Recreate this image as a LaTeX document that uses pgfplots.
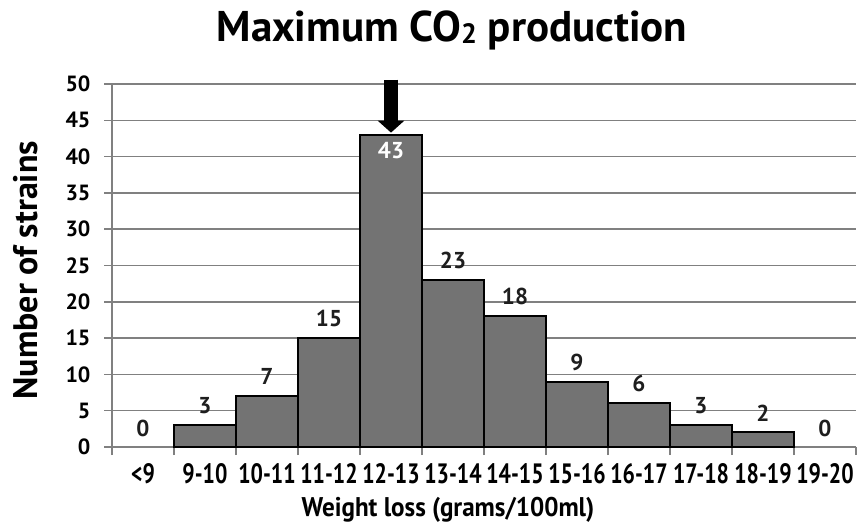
\documentclass[border=0pt]{standalone}
\usepackage{pgfplots}
\pgfplotsset{compat=1.18}
\usepackage{fontspec}
\setmainfont{PT Sans}
\newfontfamily\narrowfont[FakeStretch=0.78]{PT Sans}
\newfontfamily\xlabfont[FakeStretch=0.93]{PT Sans}
\usetikzlibrary{arrows.meta}
\definecolor{barfill}{RGB}{115,115,115}
\definecolor{gridc}{RGB}{128,128,128}
\definecolor{lab}{RGB}{30,30,30}
\begin{document}
\begin{tikzpicture}
\begin{axis}[
  scale only axis,
  width=744pt, height=363pt,
  xmin=-0.5, xmax=11.5,
  ymin=0, ymax=50,
  axis lines=left,
  axis line style={-, draw=gridc, line width=1.5pt},
  ytick={0,5,...,50},
  ymajorgrids,
  grid style={gridc, line width=1.5pt},
  tick align=outside,
  major tick length=8pt,
  minor tick length=8pt,
  tick style={gridc, line width=1.5pt},
  xtick={0,...,11},
  xticklabels={<9,9-10,10-11,11-12,12-13,13-14,14-15,15-16,16-17,17-18,18-19,19-20},
  major x tick style={draw=none},
  minor xtick={-0.5,0.5,...,11.5},
  x tick label style={yshift=-5pt, font=\narrowfont\fontsize{28}{30}\selectfont\bfseries, text=black},
  y tick label style={xshift=-10pt, font=\fontsize{22}{24}\selectfont\bfseries, text=black},
  /pgf/number format/assume math mode=true,
  every axis y label/.style={at={(axis description cs:0,0.487)}, xshift=-86pt, rotate=90, anchor=center},
  every axis x label/.style={at={(axis description cs:0.5,0)}, yshift=-63pt, xshift=-36pt, anchor=center},
  ylabel={\fontsize{34}{36}\selectfont\bfseries Number of strains},
  xlabel={\xlabfont\fontsize{27}{29}\selectfont\bfseries Weight loss (grams/100ml)},
  clip=false,
]
\addplot[ybar, bar width=1, bar shift=0pt, fill=barfill, draw=black, line width=2pt,
  nodes near coords, point meta=explicit symbolic,
  every node near coord/.append style={font=\fontsize{23}{25}\selectfont\bfseries, text=lab, anchor=south, yshift=7pt}]
  coordinates {(1,3) [3] (2,7) [7] (3,15) [15] (5,23) [23] (6,18) [18] (7,9) [9] (8,6) [6] (9,3) [3] (10,2) [2]};
\addplot[ybar, bar width=1, bar shift=0pt, draw=none, fill=none,
  nodes near coords, point meta=explicit symbolic,
  every node near coord/.append style={font=\fontsize{23}{25}\selectfont\bfseries, text=lab, anchor=south, yshift=7pt}]
  coordinates {(0,0) [0] (11,0) [0]};
\addplot[ybar, bar width=1, bar shift=0pt, fill=barfill, draw=black, line width=2pt,
  nodes near coords, point meta=explicit symbolic,
  every node near coord/.append style={font=\fontsize{23}{25}\selectfont\bfseries, text=white, anchor=north, yshift=-3pt}]
  coordinates {(4,43) [43]};
\draw[line width=14pt, -{Triangle[width=26pt,length=12pt]}] (axis cs:4,50.6) -- (axis cs:4,43.3);
\end{axis}
\node[font=\fontsize{43}{45}\selectfont\bfseries] at ([xshift=340pt,yshift=54pt]current axis.north west) {Maximum CO{\fontsize{28}{30}\selectfont\raisebox{-2pt}{2}} production};
\path ([xshift=-112pt,yshift=-77pt]current axis.south west) rectangle ++(861pt,524pt);
\end{tikzpicture}
\end{document}
